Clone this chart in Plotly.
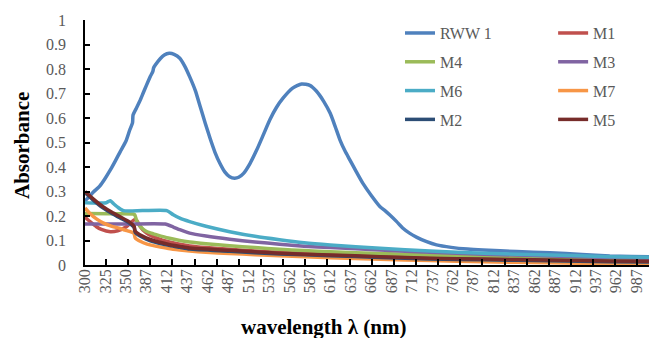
import numpy as np
import plotly.graph_objects as go

# ---------------- data ----------------
label_wl = [300, 325, 350, 387, 412, 437, 462, 487, 512, 537, 562, 587, 612, 637,
            662, 687, 712, 737, 762, 787, 812, 837, 862, 887, 912, 937, 962, 987]

rww1_wl = [300, 304, 310, 318, 324, 331, 337, 343, 350, 357, 362, 363, 369, 375, 381, 387,
           392, 395, 396, 398, 404, 409, 415, 421, 428, 434, 440, 447, 453, 459, 465, 471,
           477, 483, 489, 495, 500, 506, 514, 522, 530, 538, 546, 554, 566, 577, 587, 595,
           604, 612, 618, 624, 630, 636, 644, 652, 662, 673, 679, 685, 693, 701, 709, 718,
           730, 742, 760, 780, 799, 840, 881, 920, 954, 980, 1002]
rww1_a = [0.262, 0.275, 0.297, 0.322, 0.350, 0.388, 0.424, 0.462, 0.505, 0.551, 0.580, 0.612, 0.640, 0.668, 0.700, 0.732,
          0.770, 0.790, 0.805, 0.816, 0.842, 0.857, 0.864, 0.860, 0.844, 0.812, 0.769, 0.712, 0.646, 0.580, 0.517, 0.460,
          0.415, 0.380, 0.360, 0.354, 0.358, 0.374, 0.415, 0.469, 0.530, 0.592, 0.642, 0.680, 0.722, 0.739, 0.733, 0.710,
          0.668, 0.619, 0.566, 0.510, 0.466, 0.429, 0.380, 0.333, 0.285, 0.238, 0.222, 0.204, 0.178, 0.150, 0.130, 0.113,
          0.095, 0.082, 0.072, 0.065, 0.061, 0.055, 0.050, 0.043, 0.037, 0.035, 0.034]

m1_wl = [300, 307, 314, 320, 331, 340, 351, 360, 366, 370, 375, 381, 390, 400, 414, 428, 440, 460,
         489, 520, 550, 612, 673, 734, 800, 881, 954, 1002]
m1_a = [0.195, 0.175, 0.156, 0.145, 0.136, 0.140, 0.156, 0.175, 0.186, 0.180, 0.160, 0.143, 0.125, 0.110, 0.095, 0.085, 0.078, 0.071,
        0.064, 0.057, 0.052, 0.044, 0.037, 0.031, 0.026, 0.022, 0.019, 0.018]

m4_wl = [300, 330, 363, 366, 369, 372, 377, 385, 392, 400, 414, 428, 440, 460, 489, 520, 550, 580,
         612, 673, 734, 800, 881, 954, 1002]
m4_a = [0.210, 0.209, 0.208, 0.205, 0.185, 0.170, 0.155, 0.140, 0.131, 0.123, 0.110, 0.100, 0.094, 0.087, 0.079, 0.071, 0.064, 0.059,
        0.054, 0.047, 0.041, 0.035, 0.029, 0.023, 0.020]

m3_wl = [300, 350, 410, 420, 428, 440, 460, 489, 520, 550, 580, 612, 673, 734, 800, 881, 954, 1002]
m3_a = [0.167, 0.167, 0.167, 0.155, 0.144, 0.130, 0.118, 0.105, 0.094, 0.085, 0.077, 0.071, 0.061, 0.052, 0.044, 0.037, 0.031, 0.028]

m6_wl = [300, 326, 329, 331, 335, 340, 347, 380, 412, 420, 428, 440, 460, 489, 520, 550, 580, 612,
         673, 734, 800, 881, 954, 1002]
m6_a = [0.254, 0.254, 0.260, 0.262, 0.250, 0.236, 0.222, 0.222, 0.222, 0.205, 0.191, 0.177, 0.158, 0.136, 0.117, 0.103, 0.091, 0.082,
        0.068, 0.057, 0.048, 0.041, 0.034, 0.032]

m7_wl = [300, 306, 314, 322, 333, 343, 352, 363, 365, 367, 375, 388, 400, 414, 428, 440, 460, 489,
         520, 550, 612, 673, 734, 800, 881, 954, 1002]
m7_a = [0.233, 0.210, 0.188, 0.172, 0.158, 0.149, 0.140, 0.132, 0.128, 0.110, 0.098, 0.085, 0.076, 0.067, 0.061, 0.057, 0.052, 0.047,
        0.042, 0.038, 0.030, 0.023, 0.018, 0.013, 0.009, 0.006, 0.005]

m2_wl = [300, 310, 322, 333, 343, 355, 363, 365, 367, 380, 392, 416, 428, 440, 489, 550,
         612, 673, 734, 800, 881, 954, 1002]
m2_a = [0.295, 0.265, 0.233, 0.210, 0.192, 0.173, 0.158, 0.153, 0.133, 0.113, 0.099, 0.079, 0.072, 0.065, 0.056, 0.045,
        0.038, 0.031, 0.025, 0.021, 0.017, 0.013, 0.012]

m5_wl = [300, 310, 322, 333, 343, 355, 363, 365, 367, 380, 392, 416, 428, 440, 489, 550,
         612, 673, 734, 800, 881, 954, 1002]
m5_a = [0.300, 0.270, 0.238, 0.215, 0.197, 0.178, 0.163, 0.158, 0.138, 0.118, 0.104, 0.083, 0.076, 0.069, 0.060, 0.048,
        0.041, 0.034, 0.028, 0.024, 0.020, 0.016, 0.015]

# category-axis positions (Excel category axis: 350 -> 387 spans one label step)
def to_cat(wl):
    return np.interp(np.asarray(wl, dtype=float), [300, 350, 387, 1002], [0, 50, 75, 690])

series = [
    ("RWW 1", rww1_wl, rww1_a, "#4F81BD", "legend"),
    ("M1", m1_wl, m1_a, "#C0504D", "legend2"),
    ("M4", m4_wl, m4_a, "#9BBB59", "legend"),
    ("M3", m3_wl, m3_a, "#8064A2", "legend2"),
    ("M6", m6_wl, m6_a, "#4BACC6", "legend"),
    ("M7", m7_wl, m7_a, "#F79646", "legend2"),
    ("M2", m2_wl, m2_a, "#2C4D75", "legend"),
    ("M5", m5_wl, m5_a, "#772C2A", "legend2"),
]

FONT = "Liberation Serif, Times New Roman, serif"
GRAY = "#595959"

fig = go.Figure()
for name, wl, a, col, lg in series:
    fig.add_trace(go.Scatter(
        x=to_cat(wl), y=a, name=name, mode="lines",
        line=dict(color=col, width=3.5, shape="spline", smoothing=0.6),
        legend=lg, legendgroup=name,
    ))

# invisible helper trace carrying the label axis
tick_marks = list(25.7 + 27.09 * np.arange(25))
fig.add_trace(go.Scatter(x=[0, 690], y=[0, 0], xaxis="x2", mode="markers",
                         marker=dict(size=1, opacity=0), showlegend=False, hoverinfo="skip"))

fig.update_layout(
    width=649, height=338,
    margin=dict(l=85, r=0, t=20, b=73),
    plot_bgcolor="white", paper_bgcolor="white",
    font=dict(family=FONT, color=GRAY, size=16),
    xaxis=dict(
        range=[0, 690], tickmode="array", tickvals=tick_marks, ticks="inside", ticklen=6,
        tickcolor="black", tickwidth=1.5, showticklabels=False,
        showline=True, linecolor="black", linewidth=1.5, showgrid=False, zeroline=False,
    ),
    xaxis2=dict(
        overlaying="x", anchor="y", side="bottom", range=[0, 690],
        tickmode="array", tickvals=list(to_cat(label_wl)),
        ticktext=[str(v) for v in label_wl], tickangle=-90, ticks="",
        showline=False, showgrid=False, zeroline=False,
        tickfont=dict(family=FONT, size=16, color=GRAY),
    ),
    yaxis=dict(
        range=[0, 1], dtick=0.1, tick0=0, ticks="inside", ticklen=5, tickcolor="black",
        tickwidth=1.5,
        showline=True, linecolor="black", linewidth=1.5, showgrid=False, zeroline=False,
        tickfont=dict(family=FONT, size=16, color=GRAY), ticklabelstandoff=14,
    ),
    legend=dict(x=0.5585, y=1.016, xanchor="left", yanchor="top", tracegroupgap=5,
                font=dict(family=FONT, size=16, color=GRAY), bgcolor="rgba(0,0,0,0)"),
    legend2=dict(x=0.83, y=1.016, xanchor="left", yanchor="top", tracegroupgap=5,
                 font=dict(family=FONT, size=16, color=GRAY), bgcolor="rgba(0,0,0,0)"),
    annotations=[
        dict(text="<b>Absorbance</b>", xref="paper", yref="paper", x=-0.1117, y=0.4857,
             textangle=-90, showarrow=False, font=dict(family=FONT, size=21, color="black"),
             xanchor="center", yanchor="middle"),
        dict(text="<b>wavelength λ (nm)</b>", xref="paper", yref="paper", x=0.422, y=-0.253,
             showarrow=False, font=dict(family=FONT, size=21, color="black"),
             xanchor="center", yanchor="middle"),
    ],
)

fig.write_html("out.html")
